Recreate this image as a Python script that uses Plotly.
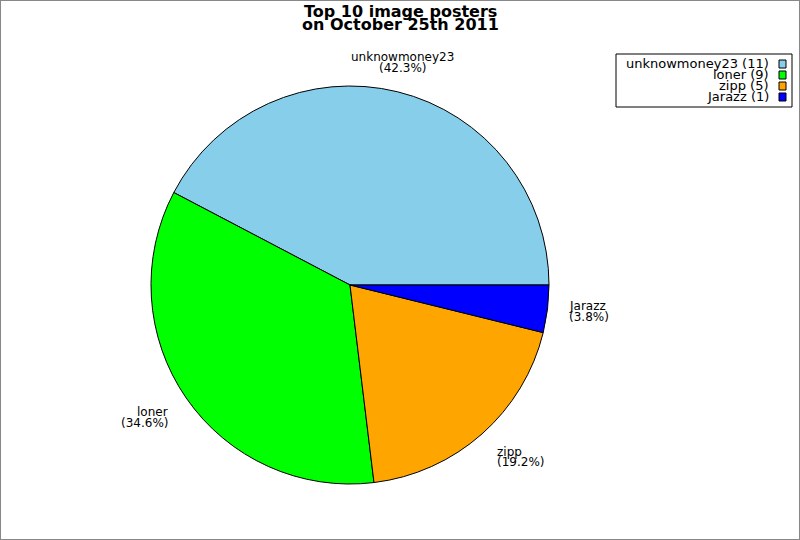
import math
import plotly.graph_objects as go

names = ["unknowmoney23", "loner", "zipp", "Jarazz"]
counts = [11, 9, 5, 1]
colors = ["#87CEEB", "#00FF00", "#FFA500", "#0000FF"]
title_lines = ["Top 10 image posters", "on October 25th 2011"]

W, H = 800, 540
cx, cy, R = 350, 285, 199
FONT = "DejaVu Sans"


def px_x(x):
    return x / W


def px_y(y):
    return 1 - y / H


total = sum(counts)
# plotly's counterclockwise pie ends its first slice at `rotation`,
# so shift it to make the first slice start at 3 o'clock
first_angle = 360 * counts[0] / total

fig = go.Figure(go.Pie(
    labels=names, values=counts,
    marker=dict(colors=colors, line=dict(color="black", width=1)),
    sort=False, direction="counterclockwise", rotation=90 - first_angle,
    textinfo="none", showlegend=False,
    domain=dict(x=[px_x(cx - R), px_x(cx + R)], y=[px_y(cy + R), px_y(cy - R)]),
))

annotations = []
# title, two tight lines
for i, line in enumerate(title_lines):
    annotations.append(dict(
        text="<b>%s</b>" % line, x=0.5, y=px_y(11 + 14 * i),
        xref="paper", yref="paper", xanchor="center", yanchor="middle",
        showarrow=False, font=dict(family=FONT, size=16, color="black")))

# slice labels, name + percentage placed outside the pie like the original
start = 0.0
for name, v in zip(names, counts):
    frac = v / total
    mid = (start + frac / 2) * 2 * math.pi
    start += frac
    c, s = math.cos(mid), math.sin(mid)
    ax = cx + (R + 20) * c
    ay = cy - (R + 20) * s
    if abs(c) < 0.3:
        xa = "center"
    elif c > 0:
        xa = "left"
    else:
        xa = "right"
    if s > 0.3:
        ys = [ay - 15, ay - 4.5]
    elif s < -0.3:
        ys = [ay + 3, ay + 13.5]
    else:
        ys = [ay - 5, ay + 5.5]
    for txt, yy in zip([name, "(%.1f%%)" % (frac * 100)], ys):
        annotations.append(dict(
            text=txt, x=px_x(ax), y=px_y(yy), xref="paper", yref="paper",
            xanchor=xa, yanchor="middle", showarrow=False,
            font=dict(family=FONT, size=12, color="black")))

# legend: right-aligned text with colour box on the right
shapes = [
    dict(type="rect", xref="paper", yref="paper", x0=0, x1=1, y0=0, y1=1,
         line=dict(color="#888888", width=2)),
    dict(type="rect", xref="paper", yref="paper",
         x0=px_x(616), x1=px_x(792), y0=px_y(107), y1=px_y(54),
         line=dict(color="black", width=1), fillcolor="white"),
]
for i, (name, v, col) in enumerate(zip(names, counts, colors)):
    ry = 64 + 11 * i
    annotations.append(dict(
        text="%s (%d)" % (name, v), x=px_x(771), y=px_y(ry),
        xref="paper", yref="paper", xanchor="right", yanchor="middle",
        showarrow=False, font=dict(family=FONT, size=13, color="black")))
    shapes.append(dict(
        type="rect", xref="paper", yref="paper",
        x0=px_x(779), x1=px_x(786), y0=px_y(ry + 4), y1=px_y(ry - 4),
        line=dict(color="black", width=1), fillcolor=col))

fig.update_layout(
    width=W, height=H,
    margin=dict(l=0, r=0, t=0, b=0),
    paper_bgcolor="white", plot_bgcolor="white",
    annotations=annotations, shapes=shapes,
)

fig.write_html("out.html", config={"displayModeBar": False},
               post_script="document.body.style.margin='0';")
